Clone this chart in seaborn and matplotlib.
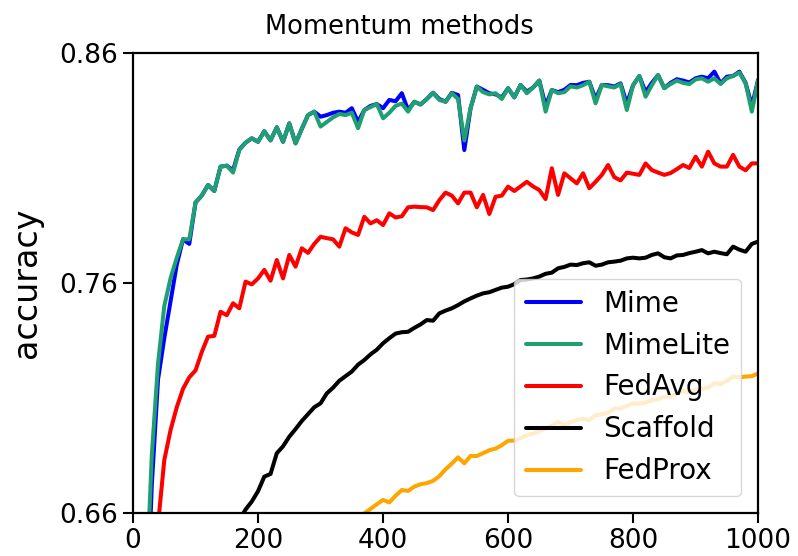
import numpy as np
import pandas as pd
import matplotlib
matplotlib.use("Agg")
import matplotlib.pyplot as plt
import seaborn as sns

rounds = list(range(0, 1001, 10))

mime = [0.40, 0.50, 0.60, 0.672, 0.718, 0.736, 0.752, 0.768, 0.779, 0.777,
        0.795, 0.798, 0.8026, 0.800, 0.8106, 0.811, 0.809, 0.818, 0.821, 0.8229,
        0.8214, 0.826, 0.822, 0.8277, 0.8214, 0.8294, 0.8207, 0.827, 0.833, 0.8345,
        0.8323, 0.833, 0.834, 0.8345, 0.834, 0.836, 0.830, 0.8352, 0.837, 0.8378,
        0.836, 0.8396, 0.839, 0.8425, 0.8352, 0.8388, 0.8376, 0.840, 0.8427, 0.840,
        0.8388, 0.8427, 0.8417, 0.8178, 0.836, 0.8454, 0.844, 0.8425, 0.842, 0.8407,
        0.8447, 0.8407, 0.8461, 0.8432, 0.845, 0.848, 0.837, 0.8439, 0.843, 0.844,
        0.8461, 0.846, 0.847, 0.8475, 0.840, 0.8461, 0.846, 0.8454, 0.8468, 0.838,
        0.846, 0.850, 0.843, 0.847, 0.8504, 0.8447, 0.847, 0.8486, 0.848, 0.8472,
        0.849, 0.8497, 0.849, 0.8519, 0.8468, 0.8497, 0.850, 0.8519, 0.847, 0.837, 0.8483]

mimelite = [0.42, 0.52, 0.62, 0.685, 0.725, 0.750, 0.762, 0.771, 0.779, 0.779,
            0.795, 0.798, 0.8026, 0.800, 0.8106, 0.811, 0.808, 0.8178, 0.821, 0.8229,
            0.8214, 0.826, 0.822, 0.8277, 0.8214, 0.8294, 0.8207, 0.827, 0.833, 0.8345,
            0.828, 0.830, 0.832, 0.8335, 0.833, 0.834, 0.8273, 0.8352, 0.8365, 0.8378,
            0.8316, 0.834, 0.837, 0.838, 0.8345, 0.8388, 0.8376, 0.840, 0.8427, 0.8396,
            0.8388, 0.8425, 0.840, 0.822, 0.836, 0.8454, 0.843, 0.842, 0.8425, 0.840,
            0.8447, 0.8407, 0.8461, 0.8425, 0.845, 0.848, 0.8345, 0.8439, 0.8425, 0.843,
            0.8455, 0.845, 0.846, 0.8475, 0.8381, 0.8461, 0.8455, 0.845, 0.8465, 0.8352,
            0.846, 0.850, 0.841, 0.846, 0.8504, 0.8447, 0.8465, 0.848, 0.847, 0.8465,
            0.8485, 0.849, 0.8475, 0.849, 0.8465, 0.849, 0.850, 0.8515, 0.8468, 0.8345, 0.8483]

fedavg = [0.45, 0.53, 0.59, 0.63, 0.655, 0.683, 0.696, 0.706, 0.714, 0.719,
          0.722, 0.730, 0.7367, 0.737, 0.7475, 0.746, 0.7512, 0.749, 0.7606, 0.7594,
          0.762, 0.7657, 0.761, 0.770, 0.762, 0.7722, 0.7671, 0.7751, 0.7731, 0.777,
          0.7801, 0.7795, 0.779, 0.7758, 0.7838, 0.782, 0.7809, 0.7888, 0.7859, 0.7873,
          0.7852, 0.7903, 0.7885, 0.789, 0.7929, 0.7932, 0.7930, 0.7929, 0.7917, 0.796,
          0.7993, 0.798, 0.7946, 0.7993, 0.7993, 0.7929, 0.7983, 0.790, 0.7975, 0.798,
          0.8019, 0.800, 0.802, 0.804, 0.802, 0.8004, 0.7965, 0.8099, 0.7983, 0.8077,
          0.8055, 0.8033, 0.8077, 0.8012, 0.804, 0.807, 0.8113, 0.806, 0.8046, 0.808,
          0.8075, 0.807, 0.812, 0.8091, 0.808, 0.807, 0.8078, 0.8095, 0.8113, 0.810,
          0.8149, 0.8106, 0.8171, 0.812, 0.8106, 0.8106, 0.8157, 0.8106, 0.809, 0.812, 0.812]

scaffold = [0.40, 0.44, 0.47, 0.50, 0.52, 0.54, 0.56, 0.575, 0.59, 0.60,
            0.61, 0.62, 0.628, 0.636, 0.642, 0.648, 0.653, 0.657, 0.6615, 0.665,
            0.6695, 0.6758, 0.677, 0.686, 0.689, 0.6932, 0.6965, 0.700, 0.703, 0.706,
            0.7077, 0.712, 0.7145, 0.7175, 0.7195, 0.7215, 0.7245, 0.7265, 0.729, 0.731,
            0.7338, 0.736, 0.738, 0.7386, 0.7388, 0.7405, 0.742, 0.7439, 0.7436, 0.7468,
            0.748, 0.749, 0.7504, 0.752, 0.7533, 0.7545, 0.7555, 0.756, 0.757, 0.758,
            0.7584, 0.7595, 0.7613, 0.7615, 0.762, 0.7628, 0.764, 0.7645, 0.7664, 0.767,
            0.768, 0.7678, 0.7686, 0.769, 0.7675, 0.768, 0.769, 0.7693, 0.7697, 0.7707,
            0.771, 0.7707, 0.771, 0.7722, 0.7729, 0.7712, 0.7707, 0.772, 0.7722, 0.773,
            0.7736, 0.7743, 0.7729, 0.7736, 0.773, 0.7725, 0.7758, 0.7745, 0.7736, 0.777, 0.778]

fedprox = [0.40, 0.42, 0.44, 0.46, 0.475, 0.49, 0.505, 0.52, 0.53, 0.54,
           0.55, 0.56, 0.568, 0.575, 0.583, 0.59, 0.596, 0.602, 0.607, 0.612,
           0.617, 0.622, 0.626, 0.63, 0.634, 0.637, 0.64, 0.643, 0.646, 0.648,
           0.65, 0.652, 0.654, 0.6555, 0.657, 0.658, 0.659, 0.6598, 0.6618, 0.6638,
           0.6657, 0.6646, 0.6675, 0.670, 0.6696, 0.6715, 0.6725, 0.673, 0.674, 0.676,
           0.679, 0.6815, 0.6842, 0.6816, 0.6848, 0.6848, 0.686, 0.6873, 0.688, 0.6895,
           0.6914, 0.6915, 0.6925, 0.6939, 0.6945, 0.6955, 0.6968, 0.698, 0.6997, 0.6982,
           0.6995, 0.7004, 0.701, 0.7004, 0.7025, 0.703, 0.7035, 0.7055, 0.7055, 0.7065,
           0.7077, 0.7075, 0.708, 0.709, 0.7095, 0.7106, 0.7105, 0.712, 0.713, 0.7125,
           0.7135, 0.714, 0.7145, 0.7164, 0.716, 0.7175, 0.7193, 0.719, 0.7193, 0.7195, 0.7207]

methods = ["Mime", "MimeLite", "FedAvg", "Scaffold", "FedProx"]
colors = {"Mime": "blue", "MimeLite": "#20a070", "FedAvg": "red",
          "Scaffold": "black", "FedProx": "orange"}
series = [mime, mimelite, fedavg, scaffold, fedprox]

df = pd.concat([pd.DataFrame({"round": rounds, "accuracy": s, "method": m})
                for m, s in zip(methods, series)], ignore_index=True)

sns.set_style("ticks")
plt.rcParams["font.family"] = ["DejaVu Sans"]
plt.rcParams.update({"text.color": "black", "axes.labelcolor": "black",
                     "xtick.color": "black", "ytick.color": "black",
                     "axes.edgecolor": "black"})

fig = plt.figure(figsize=(7.98, 5.56), dpi=100)
ax = fig.add_axes([0.1667, 0.0773, 0.7833, 0.8274])
sns.lineplot(data=df, x="round", y="accuracy", hue="method", hue_order=methods,
             palette=colors, linewidth=2.9, ax=ax, legend=True, estimator=None)

ax.set_xlim(0, 1000)
ax.set_ylim(0.66, 0.86)
ax.set_xticks([0, 200, 400, 600, 800, 1000])
ax.set_yticks([0.66, 0.76, 0.86])
ax.set_yticklabels(["0.66", "0.76", "0.86"])
ax.tick_params(labelsize=19, length=7, width=1.5, direction="out", colors="black")
for sp in ax.spines.values():
    sp.set_linewidth(1.6)
    sp.set_color("black")
ax.set_xlabel("")
ax.set_ylabel("accuracy", fontsize=24, labelpad=12)
fig.text(0.5, 0.975, "Momentum methods", fontsize=18.5, ha="center", va="top",
         color="black")
leg = ax.legend(loc="lower right", fontsize=20, frameon=True, framealpha=0.8,
                edgecolor="#cccccc", fancybox=True, borderaxespad=0.6)
for line in leg.get_lines():
    line.set_linewidth(2.9)

fig.savefig("out.png", dpi=100)
